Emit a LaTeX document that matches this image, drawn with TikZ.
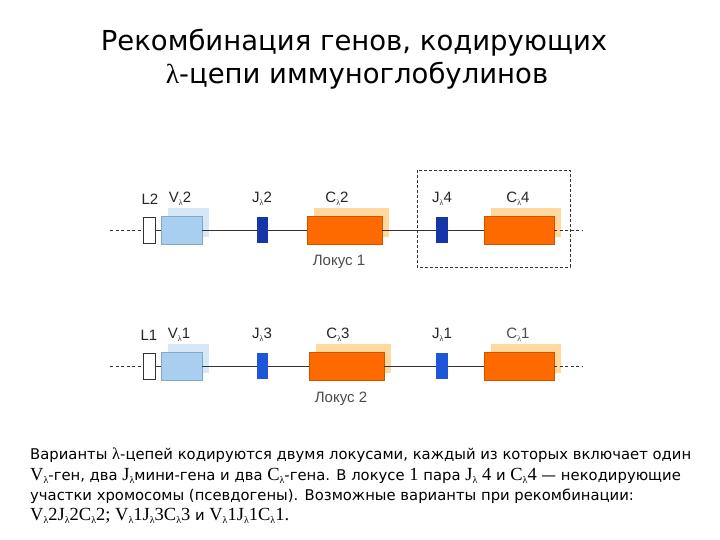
\documentclass[tikz,border=0pt]{standalone}
\usepackage{fontspec}
\setmainfont{Liberation Sans}
\newfontfamily\bodyfont{DejaVu Sans}
\newfontfamily\serifL[Scale=1.25]{Liberation Serif}
\newfontfamily\serifT{Liberation Serif}
\newcommand{\lam}{{\serifL λ}}
\newcommand{\tlam}{{\serifT λ}}
\newcommand{\sublam}[1]{{\serifL #1\raisebox{-0.35ex}{\footnotesize λ}}}
\newcommand{\lsub}[1]{#1\raisebox{-0.35ex}{\footnotesize\serifT λ}}
\definecolor{vfront}{HTML}{A9CFF0}
\definecolor{vback}{HTML}{D6E7F8}
\definecolor{jdark}{HTML}{1535A8}
\definecolor{jbright}{HTML}{1D56D8}
\definecolor{cfront}{HTML}{FF6A00}
\definecolor{cback}{HTML}{FFD9A0}
\definecolor{gline}{HTML}{333333}
\begin{document}
\begin{tikzpicture}[x=1pt,y=-1pt,
  box/.style={inner sep=0pt, outer sep=0pt},
  lbox/.style={box, draw=gline, fill=white, line width=0.8pt, minimum width=12pt, minimum height=26pt},
  vf/.style={box, draw=vfront!80!black, line width=0.3pt, fill=vfront, minimum width=41pt, minimum height=28pt},
  vb/.style={box, fill=vback, minimum width=41pt, minimum height=29pt},
  jbox/.style={box, minimum width=11pt, minimum height=26pt},
  cf/.style={box, draw=cfront!80!black, line width=0.4pt, fill=cfront, minimum height=28pt},
  cb/.style={box, fill=cback, minimum height=29pt},
  gl/.style={draw=gline, line width=0.7pt},
  gd/.style={draw=gline, line width=0.7pt, dash pattern=on 3pt off 2.5pt},
  lab/.style={font=\fontsize{15}{17}\selectfont, text=black!85},
  lab2/.style={font=\fontsize{15}{17}\selectfont, text=black!70},
  body/.style={anchor=west, inner sep=0pt, font=\bodyfont\fontsize{14.8}{17}\selectfont},
  title/.style={font=\bodyfont\fontsize{27.5}{30}\selectfont}
]
\useasboundingbox (0,0) rectangle (720,540);
\fill[white] (0,0) rectangle (720,540);

% Title
\node[title] (t1) at (354,43) {Рекомбинация генов, кодирующих};
\node[title] (t2) at (357,76) {\tlam-цепи иммуноглобулинов};

% ---------- Row 1 ----------
\node[vb] (V2b) at (188.5,222.5) {};
\node[cb, minimum width=75pt] (C2b) at (351.5,222.5) {};
\node[cb, minimum width=70pt] (C4b) at (526,222.5) {};
\coordinate (s1) at (110,230);
\coordinate (e1) at (583,230);
\node[lbox] (L2) at (149,230) {};
\node[vf] (V2) at (181.5,230) {};
\node[jbox, fill=jdark] (J2) at (262.5,230) {};
\node[cf, minimum width=75pt] (C2) at (344.5,230) {};
\node[jbox, fill=jdark, minimum width=12pt] (J4) at (442,230) {};
\node[cf, minimum width=70pt] (C4) at (519,230) {};
\draw[gd] (s1) -- (L2.west);
\draw[gl] (L2.east) -- (V2.west);
\draw[gl] (V2.east) -- (J2.west);
\draw[gl] (J2.east) -- (C2.west);
\draw[gl] (C2.east) -- (J4.west);
\draw[gl] (J4.east) -- (C4.west);
\draw[gd] (C4.east) -- (e1);

\node[lab] (lL2) at (150,199) {L2};
\node[lab] (lV2) at (180,199) {\lsub{V}2};
\node[lab] (lJ2) at (262,199) {\lsub{J}2};
\node[lab] (lC2) at (337,199) {\lsub{C}2};
\node[lab] (lJ4) at (442,199) {\lsub{J}4};
\node[lab] (lC4) at (518,199) {\lsub{C}4};
\node[lab2] (loc1) at (339,262) {Локус 1};

\draw[gline, line width=0.6pt, dash pattern=on 3pt off 2pt] (417,170) rectangle (570,267);

% ---------- Row 2 ----------
\node[vb] (V1b) at (188.5,358.5) {};
\node[cb, minimum width=75pt] (C3b) at (353.5,358.5) {};
\node[cb, minimum width=70pt] (C1b) at (526,358.5) {};
\coordinate (s2) at (110,366);
\coordinate (e2) at (583,366);
\node[lbox] (L1) at (149,366) {};
\node[vf] (V1) at (181.5,366) {};
\node[jbox, fill=jbright] (J3) at (262.5,366) {};
\node[cf, minimum width=75pt] (C3) at (346.5,366) {};
\node[jbox, fill=jbright, minimum width=12pt] (J1) at (442,366) {};
\node[cf, minimum width=70pt] (C1) at (519,366) {};
\draw[gd] (s2) -- (L1.west);
\draw[gl] (L1.east) -- (V1.west);
\draw[gl] (V1.east) -- (J3.west);
\draw[gl] (J3.east) -- (C3.west);
\draw[gl] (C3.east) -- (J1.west);
\draw[gl] (J1.east) -- (C1.west);
\draw[gd] (C1.east) -- (e2);

\node[lab] (lL1) at (149,335) {L1};
\node[lab] (lV1) at (179,335) {\lsub{V}1};
\node[lab] (lJ3) at (262,335) {\lsub{J}3};
\node[lab] (lC3) at (338,335) {\lsub{C}3};
\node[lab] (lJ1) at (442,335) {\lsub{J}1};
\node[lab2] (lC1) at (518,335) {\lsub{C}1};
\node[lab2] (loc2) at (341,399) {Локус 2};

% ---------- Body text ----------
\node[body] (b1) at (30,455) {Варианты {\serifT\fontsize{16.5}{17}\selectfont λ}-цепей кодируются двумя локусами, каждый из которых включает один};
\node[body] (b2) at (30,476) {\sublam{V}-ген, два \sublam{J}мини-гена и два \sublam{C}-гена. В локусе {\serifL 1} пара \sublam{J} {\serifL 4} и \sublam{C}{\serifL 4} — некодирующие};
\node[body] (b3) at (30,496) {участки хромосомы (псевдогены). Возможные варианты при рекомбинации:};
\node[body] (b4) at (30,516) {{\serifL\sublam{V}2\sublam{J}2\sublam{C}2; \sublam{V}1\sublam{J}3\sublam{C}3} и {\serifL\sublam{V}1\sublam{J}1\sublam{C}1.}};
\end{tikzpicture}
\end{document}
